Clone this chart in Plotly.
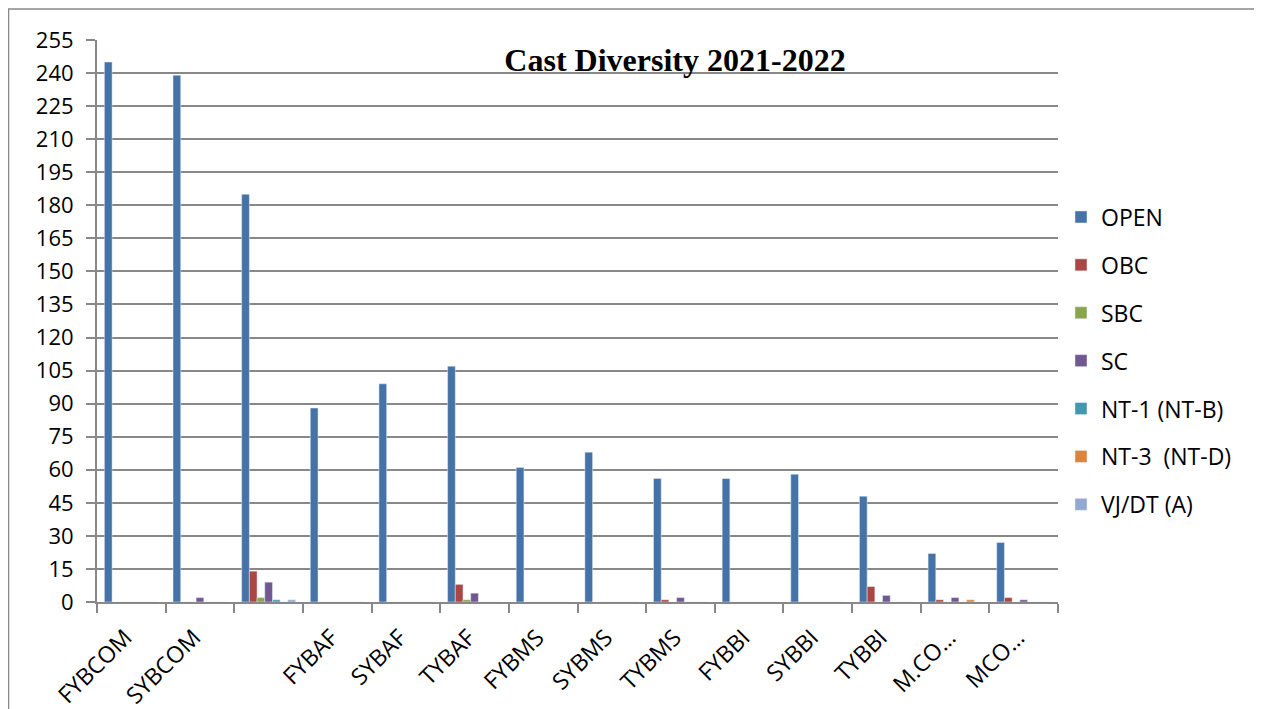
import plotly.graph_objects as go

categories = ["FYBCOM", "SYBCOM", " ", "FYBAF", "SYBAF", "TYBAF", "FYBMS", "SYBMS",
              "TYBMS", "FYBBI", "SYBBI", "TYBBI", "M.CO…", "MCO…"]
open_vals = [245, 239, 185, 88, 99, 107, 61, 68, 56, 56, 58, 48, 22, 27]
obc_vals = [0, 0, 14, 0, 0, 8, 0, 0, 1, 0, 0, 7, 1, 2]
sbc_vals = [0, 0, 2, 0, 0, 1, 0, 0, 0, 0, 0, 0, 0, 0]
sc_vals = [0, 2, 9, 0, 0, 4, 0, 0, 2, 0, 0, 3, 2, 1]
nt1_vals = [0, 0, 1, 0, 0, 0, 0, 0, 0, 0, 0, 0, 0, 0]
nt3_vals = [0, 0, 0, 0, 0, 0, 0, 0, 0, 0, 0, 0, 1, 0]
vjdt_vals = [0, 0, 1, 0, 0, 0, 0, 0, 0, 0, 0, 0, 0, 0]

series_names = ["OPEN", "OBC", "SBC", "SC", "NT-1 (NT-B)", "NT-3  (NT-D)", "VJ/DT (A)"]
series_vals = [open_vals, obc_vals, sbc_vals, sc_vals, nt1_vals, nt3_vals, vjdt_vals]
colors = ["#4572A7", "#AA4643", "#89A54E", "#71588F", "#4198AF", "#DB843D", "#93A9CF"]

y_ticks = list(range(0, 256, 15))

fig = go.Figure()
for name, vals, col in zip(series_names, series_vals, colors):
    fig.add_trace(go.Bar(x=categories, y=vals, name=name, marker_color=col,
                         legendgroup=name))

# page body has an 8px margin: figure origin sits at page (8, 8)
OFF = 8
W, H = 1254, 701
ml, mt = 97 - OFF, 40 - OFF
mr = W - (1058 - OFF)
mb = H - (602 - OFF)
pw, ph = W - ml - mr, H - mt - mb

def px_x(p):
    return (p - OFF - ml) / pw

def px_y(p):
    return (H - mb - (p - OFF)) / ph

grid_col = "#888888"
font_sans = "Open Sans, Liberation Sans, sans-serif"

fig.update_layout(
    width=W, height=H,
    margin=dict(l=ml, r=mr, t=mt, b=mb),
    paper_bgcolor="white", plot_bgcolor="white",
    barmode="group", bargap=0.215, bargroupgap=0,
    title=dict(text="<b>Cast Diversity 2021-2022</b>", x=(675 - OFF) / W, xanchor="center",
               y=1 - (60 - OFF) / H, yanchor="middle",
               font=dict(family="Liberation Serif, Times New Roman, serif", size=32, color="black")),
    legend=dict(x=px_x(1061), xanchor="left", y=px_y(361), yanchor="middle",
                font=dict(family=font_sans, size=23, color="black"),
                tracegroupgap=15, bgcolor="rgba(0,0,0,0)"),
    xaxis=dict(type="category", showgrid=False, showline=True, linecolor=grid_col, linewidth=2,
               ticks="outside", tickson="boundaries", ticklen=9, tickwidth=2, tickcolor=grid_col,
               tickangle=-45, tickfont=dict(family=font_sans, size=23, color="black"),
               ticklabelstandoff=11, ticklabelshift=-6,
               automargin=False),
    yaxis=dict(range=[0, 255], tickvals=y_ticks, showgrid=True, gridcolor=grid_col, gridwidth=2,
               zeroline=False, showline=True, linecolor=grid_col, linewidth=2,
               ticks="outside", ticklen=9, tickwidth=2, tickcolor=grid_col,
               ticklabelstandoff=8,
               tickfont=dict(family=font_sans, size=22, color="black"), automargin=False),
    shapes=[dict(type="rect", xref="paper", yref="paper",
                 x0=px_x(8.5), x1=px_x(1261), y0=px_y(715), y1=px_y(9),
                 line=dict(color="#888888", width=1.5), fillcolor="rgba(0,0,0,0)", layer="below")],
)

fig.write_html("out.html")
